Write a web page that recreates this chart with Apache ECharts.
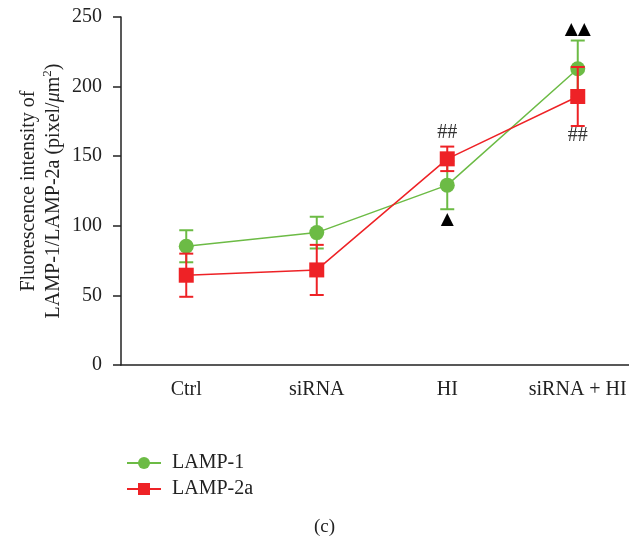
<!DOCTYPE html>
<html>
<head>
<meta charset="utf-8">
<script src="https://cdn.jsdelivr.net/npm/echarts@6/dist/echarts.min.js"></script>
<style>
html, body { margin: 0; padding: 0; background: #fff; }
#chart { width: 629px; height: 541px; }
</style>
</head>
<body>
<div id="chart"></div>
<script>
const categories = ['Ctrl', 'siRNA', 'HI', 'siRNA + HI'];
const yTicks = [0, 50, 100, 150, 200, 250];

const lamp1Mean = [85.3, 95.1, 129.2, 212.8];
const lamp1Err = [11.5, 11.4, 17.3, 20.3];

const lamp2aMean = [64.5, 68.3, 148.1, 192.9];
const lamp2aErr = [15.5, 18.0, 8.8, 21.2];

// significance marks: [category index, value, text]
const marks = [
  [2, 166.8, '##'],
  [2, 104.2, '▲'],
  [3, 240.8, '▲▲'],
  [3, 164.6, '##']
];

const GREEN = '#6cbb45';
const RED = '#ee2226';
const FONT = '"Liberation Serif", "DejaVu Serif", serif';

function errData(mean, err) {
  return mean.map((m, i) => [i, m - err[i], m + err[i]]);
}

function errRender(color) {
  return function (params, api) {
    const lo = api.coord([api.value(0), api.value(1)]);
    const hi = api.coord([api.value(0), api.value(2)]);
    const hw = 7;
    const style = { stroke: color, lineWidth: 2 };
    return {
      type: 'group',
      children: [
        { type: 'line', shape: { x1: lo[0], y1: lo[1], x2: hi[0], y2: hi[1] }, style: style },
        { type: 'line', shape: { x1: lo[0] - hw, y1: lo[1], x2: lo[0] + hw, y2: lo[1] }, style: style },
        { type: 'line', shape: { x1: hi[0] - hw, y1: hi[1], x2: hi[0] + hw, y2: hi[1] }, style: style }
      ]
    };
  };
}

const chart = echarts.init(document.getElementById('chart'));
chart.setOption({
  animation: false,
  textStyle: { fontFamily: FONT, color: '#222' },
  grid: { left: 121, width: 522, top: 17, bottom: 176, containLabel: false, outerBoundsMode: 'none' },
  legend: {
    orient: 'vertical',
    left: 121,
    top: 448,
    itemWidth: 34,
    itemHeight: 15,
    itemGap: 6,
    data: ['LAMP-1', 'LAMP-2a'],
    textStyle: { fontFamily: FONT, fontSize: 20, color: '#222', padding: [0, 0, 0, 6] }
  },
  graphic: [{
    type: 'text',
    left: 314,
    top: 518,
    style: { text: '(c)', font: '19px ' + FONT, fill: '#222' }
  }],
  xAxis: {
    type: 'category',
    data: categories,
    boundaryGap: true,
    axisLine: { lineStyle: { color: '#222', width: 1.5 } },
    axisTick: { alignWithLabel: true, length: 8, lineStyle: { color: '#222', width: 1.5 } },
    axisLabel: { interval: 0, fontFamily: FONT, fontSize: 20, color: '#222', margin: 15 }
  },
  yAxis: {
    type: 'value',
    min: 0,
    max: 250,
    interval: 50,
    splitLine: { show: false },
    axisLine: { show: true, lineStyle: { color: '#222', width: 1.5 } },
    axisTick: { show: true, length: 8, lineStyle: { color: '#222', width: 1.5 } },
    axisLabel: { fontFamily: FONT, fontSize: 20, color: '#222', margin: 19 },
    name: '{a|Fluorescence intensity of}\n{a|LAMP-1/LAMP-2a (pixel/}{i|μ}{a|m}{s|2}{a|)}',
    nameLocation: 'middle',
    nameRotate: 90,
    nameGap: 55,
    nameMoveOverlap: false,
    nameTextStyle: {
      align: 'center',
      lineHeight: 25,
      rich: {
        a: { fontFamily: FONT, fontSize: 20, color: '#222', lineHeight: 25 },
        i: { fontFamily: FONT, fontSize: 20, fontStyle: 'italic', color: '#222', lineHeight: 25 },
        s: { fontFamily: FONT, fontSize: 13, color: '#222', verticalAlign: 'top', lineHeight: 25, padding: [0, 0, 10, 0] }
      }
    }
  },
  series: [
    {
      name: 'LAMP-1 err',
      type: 'custom',
      renderItem: errRender(GREEN),
      data: errData(lamp1Mean, lamp1Err),
      z: 1
    },
    {
      name: 'LAMP-1',
      type: 'line',
      data: lamp1Mean,
      symbol: 'circle',
      symbolSize: 15,
      color: GREEN,
      lineStyle: { color: GREEN, width: 1.5 },
      itemStyle: { color: GREEN },
      z: 2
    },
    {
      name: 'LAMP-2a err',
      type: 'custom',
      renderItem: errRender(RED),
      data: errData(lamp2aMean, lamp2aErr),
      z: 3
    },
    {
      name: 'LAMP-2a',
      type: 'line',
      data: lamp2aMean,
      symbol: 'rect',
      symbolSize: 15,
      color: RED,
      lineStyle: { color: RED, width: 1.5 },
      itemStyle: { color: RED },
      z: 4
    },
    {
      name: 'marks',
      type: 'custom',
      data: marks,
      z: 5,
      renderItem: function (params, api) {
        const p = api.coord([api.value(0), api.value(1)]);
        const txt = marks[params.dataIndex][2];
        const tri = txt.indexOf('▲') >= 0;
        return {
          type: 'text',
          x: p[0],
          y: p[1],
          style: {
            text: txt,
            fill: tri ? '#000' : '#333',
            font: tri ? '17px "DejaVu Sans", sans-serif' : '20px ' + FONT,
            align: 'center',
            verticalAlign: 'middle'
          }
        };
      }
    }
  ]
});
</script>
</body>
</html>
